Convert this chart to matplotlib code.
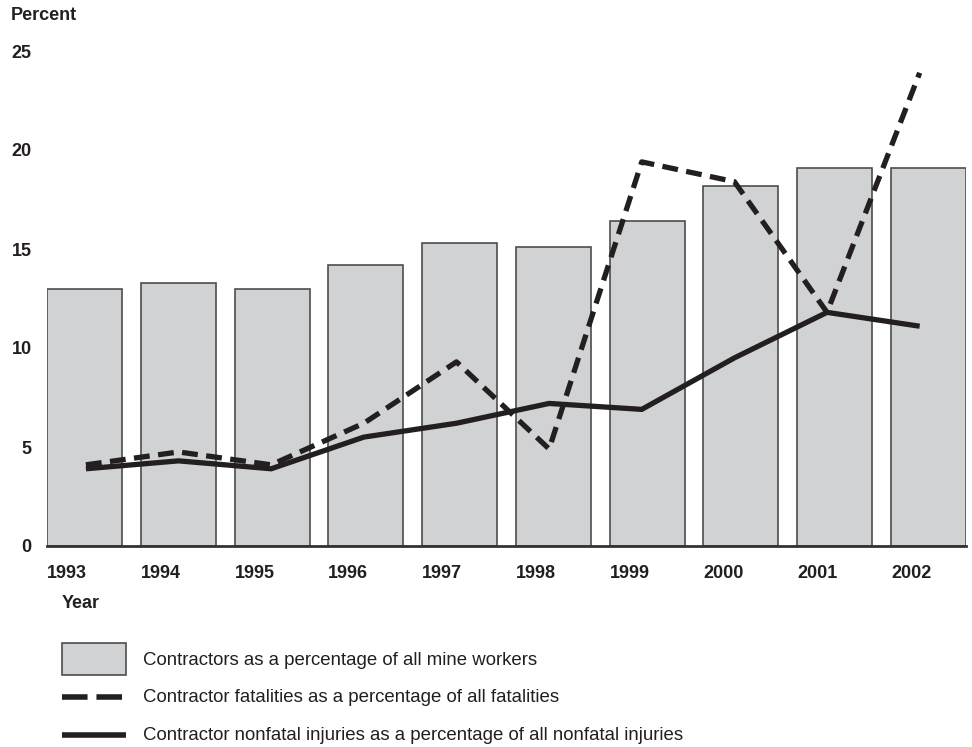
import matplotlib.pyplot as plt
from matplotlib.patches import Patch
from matplotlib.lines import Line2D
from matplotlib.legend_handler import HandlerLine2D

years = ['1993', '1994', '1995', '1996', '1997', '1998', '1999', '2000', '2001', '2002']
workers_pct = [13.0, 13.3, 13.0, 14.2, 15.3, 15.1, 16.4, 18.2, 19.1, 19.1]
fatal_pct = [4.1, 4.75, 4.1, 6.2, 9.3, 4.9, 19.4, 18.4, 11.8, 23.9]
injury_pct = [3.9, 4.3, 3.9, 5.5, 6.2, 7.2, 6.9, 9.5, 11.8, 11.1]

labels = ['Contractors as a percentage of all mine workers',
          'Contractor fatalities as a percentage of all fatalities',
          'Contractor nonfatal injuries as a percentage of all nonfatal injuries']

plt.rcParams['font.family'] = ['Liberation Sans', 'DejaVu Sans']

bar_color = '#d1d2d4'
bar_edge = '#4d4d4d'
ink = '#231f20'


class LowerLine(HandlerLine2D):
    # put the legend line level with the middle of its text
    def create_artists(self, legend, orig_handle, xdescent, ydescent, width, height, fontsize, trans):
        s = 4.3
        return super().create_artists(legend, orig_handle, xdescent, ydescent + s,
                                      width, height - s, fontsize, trans)


W, H = 972, 747
fig = plt.figure(figsize=(W / 100, H / 100), dpi=100)
ax = fig.add_axes([47 / W, 1 - 546 / H, (966 - 47) / W, (546 - 51) / H])

pos = list(range(len(years)))
ax.bar(pos, workers_pct, width=0.8, color=bar_color, edgecolor=bar_edge, linewidth=1.2, zorder=1)
ax.set_xlim(-0.4, 9.4)
ax.set_ylim(0, 25)

# lines sit on a slightly different horizontal scale than the bars
ax2 = ax.twiny()
ax2.set_xlim(-0.42, 9.5)
ax2.plot(pos, fatal_pct, color=ink, linewidth=3.8, dashes=(3.0, 1.6),
         dash_capstyle='butt', solid_joinstyle='round', dash_joinstyle='round', zorder=3)
ax2.plot(pos, injury_pct, color=ink, linewidth=3.8, solid_capstyle='butt',
         solid_joinstyle='miter', zorder=3)
ax2.axis('off')

for s in ['top', 'right', 'left']:
    ax.spines[s].set_visible(False)
ax.spines['bottom'].set_linewidth(2.0)
ax.spines['bottom'].set_color('#333333')
ax.spines['bottom'].set_zorder(4)

ax.set_yticks([0, 5, 10, 15, 20, 25])
ax.set_yticklabels(['0', '5', '10', '15', '20', '25'], fontsize=13, fontweight='bold', color=ink)
ax.tick_params(axis='y', length=0, pad=11)

ax.set_xticks([p - 0.4 for p in pos])
ax.set_xticklabels(years, fontsize=13, fontweight='bold', color=ink, ha='left')
ax.tick_params(axis='x', length=0, pad=14)

fig.text(11 / W, 1 - 16 / H, 'Percent', fontsize=13, fontweight='bold', color=ink, va='center', ha='left')
fig.text(62 / W, 1 - 603 / H, 'Year', fontsize=13, fontweight='bold', color=ink, va='center', ha='left')

handles = [Patch(facecolor=bar_color, edgecolor=bar_edge, linewidth=1.2),
           Line2D([], [], color=ink, linewidth=4, dashes=(4.6, 1.6), dash_capstyle='butt'),
           Line2D([], [], color=ink, linewidth=4, solid_capstyle='butt')]
fs = 13.4
px = fs * 100 / 72
fig.legend(handles, labels, loc='upper left', bbox_to_anchor=(62 / W, 1 - 643 / H),
           frameon=False, fontsize=fs, borderpad=0, borderaxespad=0,
           handlelength=64 / px, handleheight=(32 / px - 0.245) / 0.65, handletextpad=17 / px,
           labelspacing=5.5 / px, labelcolor=ink,
           handler_map={Line2D: LowerLine()})

fig.savefig('out.png', dpi=100)
